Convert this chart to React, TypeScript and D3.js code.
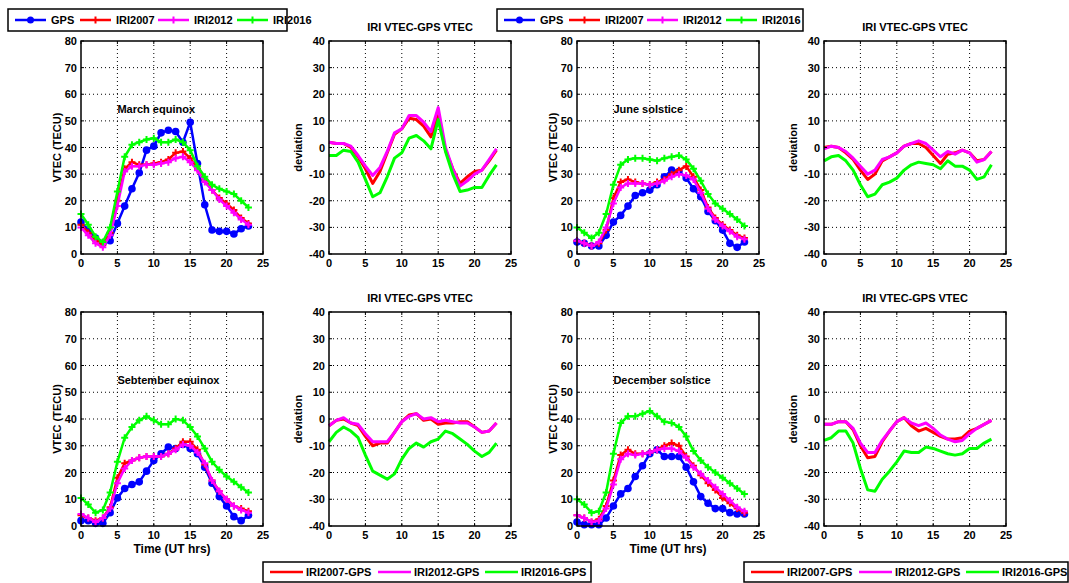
import React from 'react';
import * as d3 from 'd3';

// hours of the day (UT)
const HOURS = [0, 1, 2, 3, 4, 5, 6, 7, 8, 9, 10, 11, 12, 13, 14, 15, 16, 17, 18, 19, 20, 21, 22, 23];
const X_TICKS = [0, 5, 10, 15, 20, 25];
const VTEC_TICKS = [0, 10, 20, 30, 40, 50, 60, 70, 80];
const DEV_TICKS = [-40, -30, -20, -10, 0, 10, 20, 30, 40];

// March equinox
const MAR_GPS = [12, 9, 6, 4, 5, 11.5, 18, 24.5, 30.5, 39, 40.5, 45.5, 46.5, 46, 42, 49.5, 34, 18.5, 9, 8.5, 8.5, 7.5, 9.5, 10.5];
const MAR_2007 = [11, 8, 5, 3.5, 8, 20, 32, 34.5, 33.5, 33.5, 34, 34.5, 35.5, 38, 38.5, 36, 32, 28, 24, 21, 19, 16.5, 13.5, 11.5];
const MAR_2012 = [10, 7, 4, 2.5, 7, 18, 31, 33, 33, 33.5, 33.5, 34, 34.5, 36, 36.5, 34.5, 31.5, 27, 24, 20.5, 18, 15.5, 13, 11];
const MAR_2016 = [15, 11, 6.5, 4.5, 10, 23.5, 36.5, 41, 42, 43, 43.5, 42, 42, 43, 42, 39, 33, 29, 26, 24.5, 23.5, 22.5, 20, 17.5];
const MAR_DEV_2007 = [2, 1.5, 1.5, 0, -3.5, -8, -13.5, -9, -2, 5, 7, 11, 10.5, 8, 4, 12, -1, -8, -13.5, -11, -9, -8.5, -5, -1];
const MAR_DEV_2012 = [2, 1.5, 1.5, 0.5, -3, -7, -10.5, -7.5, -1.5, 5.5, 7, 12, 12, 9.5, 6, 15, 0, -8, -14.5, -12.5, -10, -8.5, -4.5, -0.5];
const MAR_DEV_2016 = [-3, -3, -1, -1.5, -5.5, -12, -18.5, -17, -11, -4, -2, 3.5, 4.5, 2.5, -0.5, 10.5, -1.5, -10, -16.5, -16, -15, -15, -10.5, -6.5];

// June solstice
const JUN_GPS = [4.5, 4, 3, 3, 7, 12, 14.5, 18, 22, 23, 24, 26, 29, 31.5, 31, 28.5, 24.5, 21.5, 16, 12.5, 9, 4, 2.5, 4.5];
const JUN_2007 = [5, 4, 3, 4, 9, 21, 27, 28, 27, 26.5, 26, 27, 28, 30, 31.5, 33, 29, 24, 17.5, 13.5, 11, 9, 7, 6];
const JUN_2012 = [5, 4, 3, 4.5, 10, 19, 25, 26.5, 26.5, 26.5, 26, 26.5, 27.5, 29, 30, 29.5, 28, 23, 17, 13, 10.5, 8.5, 6.5, 5.5];
const JUN_2016 = [10, 8, 6, 8, 15, 26, 33.5, 35.5, 36, 36, 35.5, 35, 36, 36.5, 37, 35.5, 32, 27.5, 22.5, 19, 17, 15, 13, 10.5];
const JUN_DEV_2007 = [0, 0.5, 0, -2, -4.5, -8.5, -12, -10, -5, -3.5, -2, 0.5, 1.5, 1.5, 0, -3, -6, -2.5, -2, -1, -2, -5, -4.5, -1.5];
const JUN_DEV_2012 = [-0.5, 0.5, 0, -1.5, -4, -7, -10, -8.5, -4.5, -3.5, -2, 0.5, 1.5, 2.5, 1.5, -1, -3.5, -1.5, -2.5, -1, -2, -5.5, -4.5, -1.5];
const JUN_DEV_2016 = [-5, -3.5, -3, -5, -8.5, -14, -18.5, -17.5, -14, -13, -11.5, -8.5, -6.5, -5.5, -6, -6.5, -8, -5, -7, -7, -8.5, -12, -11, -6.5];

// September equinox
const SEP_GPS = [2, 2, 1, 1, 5, 10.5, 14, 15.5, 16.5, 20.5, 24.5, 27, 29.5, 29, 30.5, 29, 27, 22, 16, 11, 7.5, 3.5, 2, 4];
const SEP_2007 = [4, 3, 2, 3, 7, 18, 23.5, 24.5, 25.5, 26, 26, 26, 27, 29, 31.5, 31.5, 28.5, 23, 17, 13, 10, 7.5, 6.5, 5.5];
const SEP_2012 = [4.5, 3, 1.5, 3, 6.5, 16, 21.5, 24.5, 25.5, 26, 26, 26, 27, 28.5, 30.5, 30, 27.5, 23.5, 17, 13, 10, 7.5, 6, 5];
const SEP_2016 = [10.5, 8, 5, 6, 12.5, 24, 33, 37, 39.5, 41, 39.5, 38, 38, 40, 39.5, 37, 33.5, 29, 24, 21, 18.5, 16.5, 14.5, 12.5];
const SEP_DEV_2007 = [-2.5, -0.5, 0, -1.5, -2.5, -6.5, -10, -9, -9, -5, -1, 1.5, 2, -0.5, 0, -2, -1.5, -1.5, -1, -1, -3, -5, -4.5, -1.5];
const SEP_DEV_2012 = [-2.5, -0.5, 0.5, -1.5, -2, -5.5, -8.5, -8.5, -8.5, -5, -1, 1, 2, 0, 0.5, -1, -0.5, -1, -1.5, -1.5, -3, -5, -4.5, -1.5];
const SEP_DEV_2016 = [-8.5, -5, -3, -4.5, -7, -13.5, -19.5, -21, -22.5, -20.5, -15, -11, -9, -10.5, -8.5, -7.5, -4.5, -5.5, -7.5, -9.5, -12, -14, -12.5, -9];

// December solstice
const DEC_GPS = [1.5, 0.5, 0.5, 0.5, 3, 7.5, 12, 14, 18.5, 22.5, 27, 28.5, 26, 26, 26, 22, 16.5, 11, 8.5, 6.5, 6.5, 5, 4.5, 4.5];
const DEC_2007 = [4, 3, 1.5, 2.5, 7.5, 17, 26.5, 28.5, 27, 27, 27.5, 28.5, 30, 31, 30, 26, 22.5, 19, 16, 13.5, 10.5, 8.5, 6.5, 5];
const DEC_2012 = [4, 3, 1.5, 2, 6.5, 15.5, 25, 27, 26.5, 27, 27.5, 28.5, 29, 29, 28, 25.5, 22, 19.5, 17, 14.5, 12, 9.5, 7, 5.5];
const DEC_2016 = [10, 8, 5, 5.5, 12.5, 27, 38.5, 41, 41, 42, 43, 41, 39, 38.5, 37, 33.5, 28, 24.5, 22, 20, 18, 16, 14, 12];
const DEC_DEV_2007 = [-2, -2, -1, -1, -4, -10, -14.5, -14, -8.5, -4.5, -1, 0.5, -2.5, -4.5, -3.5, -5, -6.5, -7.5, -7.5, -7, -4.5, -3.5, -2, -0.5];
const DEC_DEV_2012 = [-2, -2, -1, -1, -3.5, -9, -12.5, -12.5, -8, -4.5, -1, 0.5, -1.5, -2.5, -1.5, -3.5, -6, -7.5, -8.5, -8, -5.5, -3.5, -2, -0.5];
const DEC_DEV_2016 = [-8, -7, -4.5, -4.5, -9, -18.5, -26.5, -27, -22.5, -19.5, -16, -12, -12.5, -12.5, -10.5, -11, -12, -13, -13.5, -13, -11, -11, -9, -7.5];

const BLUE = '#0000ff';
const RED = '#ff0000';
const MAGENTA = '#ff00ff';
const GREEN = '#00ff00';
const FONT = '"Liberation Sans", Arial, sans-serif';

const W = 182;

function Axes({ f, x, y, yTicks, children }: any) {
  const { left, top, bottom } = f;
  const right = left + W;
  return (
    <g>
      {/* dotted grid */}
      {X_TICKS.slice(1, -1).map(t => (
        <line key={'gx' + t} x1={x(t)} x2={x(t)} y1={top} y2={bottom} stroke="#000" strokeWidth={1} strokeDasharray="1,3" />
      ))}
      {yTicks.slice(1, -1).map((t: number) => (
        <line key={'gy' + t} x1={left} x2={right} y1={y(t)} y2={y(t)} stroke="#000" strokeWidth={1} strokeDasharray="1,3" />
      ))}
      {children}
      <rect x={left} y={top} width={W} height={bottom - top} fill="none" stroke="#000" strokeWidth={1.5} />
      {X_TICKS.map(t => (
        <g key={'tx' + t}>
          <line x1={x(t)} x2={x(t)} y1={bottom} y2={bottom - 3} stroke="#000" />
          <line x1={x(t)} x2={x(t)} y1={top} y2={top + 3} stroke="#000" />
          <text x={x(t)} y={bottom + 13} textAnchor="middle" fontSize={11} fontWeight="bold" fontFamily={FONT}>{t}</text>
        </g>
      ))}
      {yTicks.map((t: number) => (
        <g key={'ty' + t}>
          <line x1={left} x2={left + 3} y1={y(t)} y2={y(t)} stroke="#000" />
          <line x1={right} x2={right - 3} y1={y(t)} y2={y(t)} stroke="#000" />
          <text x={left - 4} y={y(t) + 4} textAnchor="end" fontSize={11} fontWeight="bold" fontFamily={FONT}>{t}</text>
        </g>
      ))}
    </g>
  );
}

function Plus({ cx, cy, color }: any) {
  return (
    <path d={`M${cx - 3.5},${cy}H${cx + 3.5}M${cx},${cy - 3.5}V${cy + 3.5}`} stroke={color} strokeWidth={2} />
  );
}

function VtecPanel({ f, label, gps, i07, i12, i16, showTime }: any) {
  const x = d3.scaleLinear().domain([0, 25]).range([f.left, f.left + W]);
  const y = d3.scaleLinear().domain([0, 80]).range([f.bottom, f.top]);
  const line = d3.line<number>().x((_, i) => x(HOURS[i])).y(d => y(d));
  const iri = [
    { v: i07, c: RED },
    { v: i12, c: MAGENTA },
    { v: i16, c: GREEN },
  ];
  return (
    <g>
      <Axes f={f} x={x} y={y} yTicks={VTEC_TICKS}>
        <path d={line(gps) || ''} fill="none" stroke={BLUE} strokeWidth={2.5} />
        {gps.map((d: number, i: number) => (
          <circle key={i} cx={x(HOURS[i])} cy={y(d)} r={3.8} fill={BLUE} />
        ))}
        {iri.map(s => (
          <g key={s.c}>
            <path d={line(s.v) || ''} fill="none" stroke={s.c} strokeWidth={2.5} />
            {s.v.map((d: number, i: number) => (
              <Plus key={i} cx={x(HOURS[i])} cy={y(d)} color={s.c} />
            ))}
          </g>
        ))}
      </Axes>
      <text x={x(5)} y={y(53)} fontSize={11} fontWeight="bold" fontFamily={FONT}>{label}</text>
      <text transform={`translate(${f.left - 20},${(f.top + f.bottom) / 2}) rotate(-90)`} textAnchor="middle" fontSize={11} fontWeight="bold" fontFamily={FONT}>VTEC (TECU)</text>
      {showTime && (
        <text x={f.left + W / 2} y={f.bottom + 27} textAnchor="middle" fontSize={12} fontWeight="bold" fontFamily={FONT}>Time (UT hrs)</text>
      )}
    </g>
  );
}

function DevPanel({ f, d07, d12, d16 }: any) {
  const x = d3.scaleLinear().domain([0, 25]).range([f.left, f.left + W]);
  const y = d3.scaleLinear().domain([-40, 40]).range([f.bottom, f.top]);
  const line = d3.line<number>().x((_, i) => x(HOURS[i])).y(d => y(d));
  const series = [
    { v: d07, c: RED },
    { v: d12, c: MAGENTA },
    { v: d16, c: GREEN },
  ];
  return (
    <g>
      <Axes f={f} x={x} y={y} yTicks={DEV_TICKS}>
        {series.map(s => (
          <path key={s.c} d={line(s.v) || ''} fill="none" stroke={s.c} strokeWidth={3} strokeLinejoin="round" />
        ))}
      </Axes>
      <text x={f.left + W / 2} y={f.top - 10} textAnchor="middle" fontSize={11} fontWeight="bold" fontFamily={FONT}>IRI VTEC-GPS VTEC</text>
      <text transform={`translate(${f.left - 27},${(f.top + f.bottom) / 2}) rotate(-90)`} textAnchor="middle" fontSize={11} fontWeight="bold" fontFamily={FONT}>deviation</text>
    </g>
  );
}

function TopLegend({ x0, width }: any) {
  const items = [
    { t: 'GPS', c: BLUE, dot: true, dx: 7 },
    { t: 'IRI2007', c: RED, dot: false, dx: 72 },
    { t: 'IRI2012', c: MAGENTA, dot: false, dx: 150 },
    { t: 'IRI2016', c: GREEN, dot: false, dx: 229 },
  ];
  return (
    <g>
      <rect x={x0} y={9} width={width} height={22} fill="#fff" stroke="#000" strokeWidth={1.5} />
      {items.map(it => (
        <g key={it.t}>
          <line x1={x0 + it.dx} x2={x0 + it.dx + 31} y1={20} y2={20} stroke={it.c} strokeWidth={2.5} />
          {it.dot ? <circle cx={x0 + it.dx + 15.5} cy={20} r={3.5} fill={it.c} /> : <Plus cx={x0 + it.dx + 15.5} cy={20} color={it.c} />}
          <text x={x0 + it.dx + 36} y={24} fontSize={11} fontWeight="bold" fontFamily={FONT}>{it.t}</text>
        </g>
      ))}
    </g>
  );
}

function BottomLegend({ x0, width }: any) {
  const items = [
    { t: 'IRI2007-GPS', c: RED, dx: 7 },
    { t: 'IRI2012-GPS', c: MAGENTA, dx: 115 },
    { t: 'IRI2016-GPS', c: GREEN, dx: 222 },
  ];
  return (
    <g>
      <rect x={x0} y={562} width={width} height={20} fill="#fff" stroke="#000" strokeWidth={1.5} />
      {items.map(it => (
        <g key={it.t}>
          <line x1={x0 + it.dx} x2={x0 + it.dx + 33} y1={572} y2={572} stroke={it.c} strokeWidth={2.5} />
          <text x={x0 + it.dx + 36} y={576} fontSize={11} fontWeight="bold" fontFamily={FONT}>{it.t}</text>
        </g>
      ))}
    </g>
  );
}

const App = () => {
  const top = { top: 41, bottom: 254 };
  const bot = { top: 312, bottom: 526 };
  return (
    <svg width={1069} height={583} style={{ position: 'absolute', left: 0, top: 0, background: '#fff' }}>
      <rect width={1069} height={583} fill="#fff" />
      <VtecPanel f={{ left: 81, ...top }} label="March equinox" gps={MAR_GPS} i07={MAR_2007} i12={MAR_2012} i16={MAR_2016} />
      <DevPanel f={{ left: 329, ...top }} d07={MAR_DEV_2007} d12={MAR_DEV_2012} d16={MAR_DEV_2016} />
      <VtecPanel f={{ left: 577, ...top }} label="June solstice" gps={JUN_GPS} i07={JUN_2007} i12={JUN_2012} i16={JUN_2016} />
      <DevPanel f={{ left: 824, ...top }} d07={JUN_DEV_2007} d12={JUN_DEV_2012} d16={JUN_DEV_2016} />
      <VtecPanel f={{ left: 81, ...bot }} label="Sebtember equinox" gps={SEP_GPS} i07={SEP_2007} i12={SEP_2012} i16={SEP_2016} showTime />
      <DevPanel f={{ left: 329, ...bot }} d07={SEP_DEV_2007} d12={SEP_DEV_2012} d16={SEP_DEV_2016} />
      <VtecPanel f={{ left: 577, ...bot }} label="December solstice" gps={DEC_GPS} i07={DEC_2007} i12={DEC_2012} i16={DEC_2016} showTime />
      <DevPanel f={{ left: 824, ...bot }} d07={DEC_DEV_2007} d12={DEC_DEV_2012} d16={DEC_DEV_2016} />
      <TopLegend x0={8} width={279} />
      <TopLegend x0={497} width={306} />
      <BottomLegend x0={263} width={328} />
      <BottomLegend x0={744} width={324} />
    </svg>
  );
};

export default App;
